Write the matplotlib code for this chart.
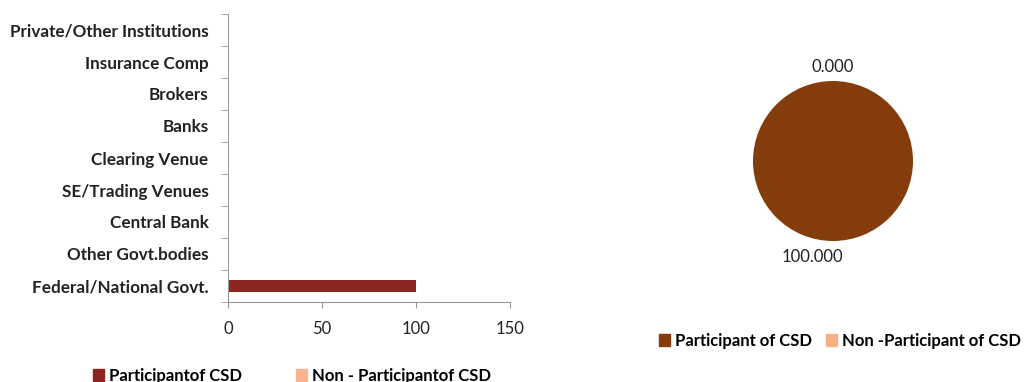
import matplotlib
matplotlib.use("Agg")
import matplotlib.pyplot as plt
from matplotlib.patches import Patch
import numpy as np

categories = ["Federal/National Govt.", "Other Govt.bodies", "Central Bank",
              "SE/Trading Venues", "Clearing Venue", "Banks", "Brokers",
              "Insurance Comp", "Private/Other Institutions"]
participant = [100, 0, 0, 0, 0, 0, 0, 0, 0]
non_participant = [0, 0, 0, 0, 0, 0, 0, 0, 0]
xticks = [0, 50, 100, 150]

pie_labels = ["Participant of CSD", "Non -Participant of CSD"]
pie_values = [100.0, 0.0]

bar_legend = ["Participantof CSD", "Non - Participantof CSD"]

c_bar = "#8C2420"
c_non = "#F9B38F"
c_pie = "#843C0C"
c_pie_non = "#F4B183"

plt.rcParams['font.family'] = ['Lato', 'DejaVu Sans']
FS = 12

fig = plt.figure(figsize=(10.24, 3.82), dpi=100)

ax = fig.add_axes([228/1024, 1-302/382, 282/1024, 288/382])
y = np.arange(len(categories))
ax.barh(y, participant, height=0.4, color=c_bar)
ax.barh(y, non_participant, height=0.4, left=participant, color=c_non)
ax.set_xlim(0, 150)
ax.set_ylim(-0.5, len(categories) - 0.5)
ax.set_xticks(xticks)
ax.set_xticklabels([str(t) for t in xticks], fontsize=FS, color="#222222")
ax.set_yticks(y)
ax.set_yticklabels(categories, fontsize=12.3, fontweight="bold", color="#222222")
ax.set_yticks(np.arange(-0.5, len(categories), 1), minor=True)
ax.tick_params(axis="y", which="major", length=0, pad=14)
ax.tick_params(axis="y", which="minor", length=5, color="#999999")
ax.tick_params(axis="x", length=4, color="#999999", pad=10)
for s in ["top", "right"]:
    ax.spines[s].set_visible(False)
for s in ["left", "bottom"]:
    ax.spines[s].set_color("#999999")

fig.legend(handles=[Patch(color=c_bar), Patch(color=c_non)], labels=bar_legend,
           loc="center", bbox_to_anchor=(292/1024, 1-376/382), ncol=2, frameon=False,
           handlelength=0.7, handleheight=0.7, columnspacing=3.2,
           handletextpad=0.3, prop={'weight': 'bold', 'size': FS})

pax = fig.add_axes([733/1024, 1-261/382, 200/1024, 200/382])
wedges, texts = pax.pie(pie_values, colors=[c_pie, c_pie_non], startangle=90,
                        counterclock=False, labels=[f"{v:.3f}" for v in pie_values],
                        labeldistance=1.18, textprops={'fontsize': FS, 'color': '#222222'})
for t in texts:
    t.set_ha("center")
    t.set_va("center")
x0, y0 = texts[0].get_position()
texts[0].set_position((x0 - 0.26, y0 - 0.02))
pax.set_aspect("equal")

fig.legend(handles=[Patch(color=c_pie), Patch(color=c_pie_non)], labels=pie_labels,
           loc="center", bbox_to_anchor=(840/1024, 1-341/382), ncol=2, frameon=False,
           handlelength=0.7, handleheight=0.7, columnspacing=0.8,
           handletextpad=0.3, prop={'weight': 'bold', 'size': FS})

fig.savefig("out.png", dpi=100)
